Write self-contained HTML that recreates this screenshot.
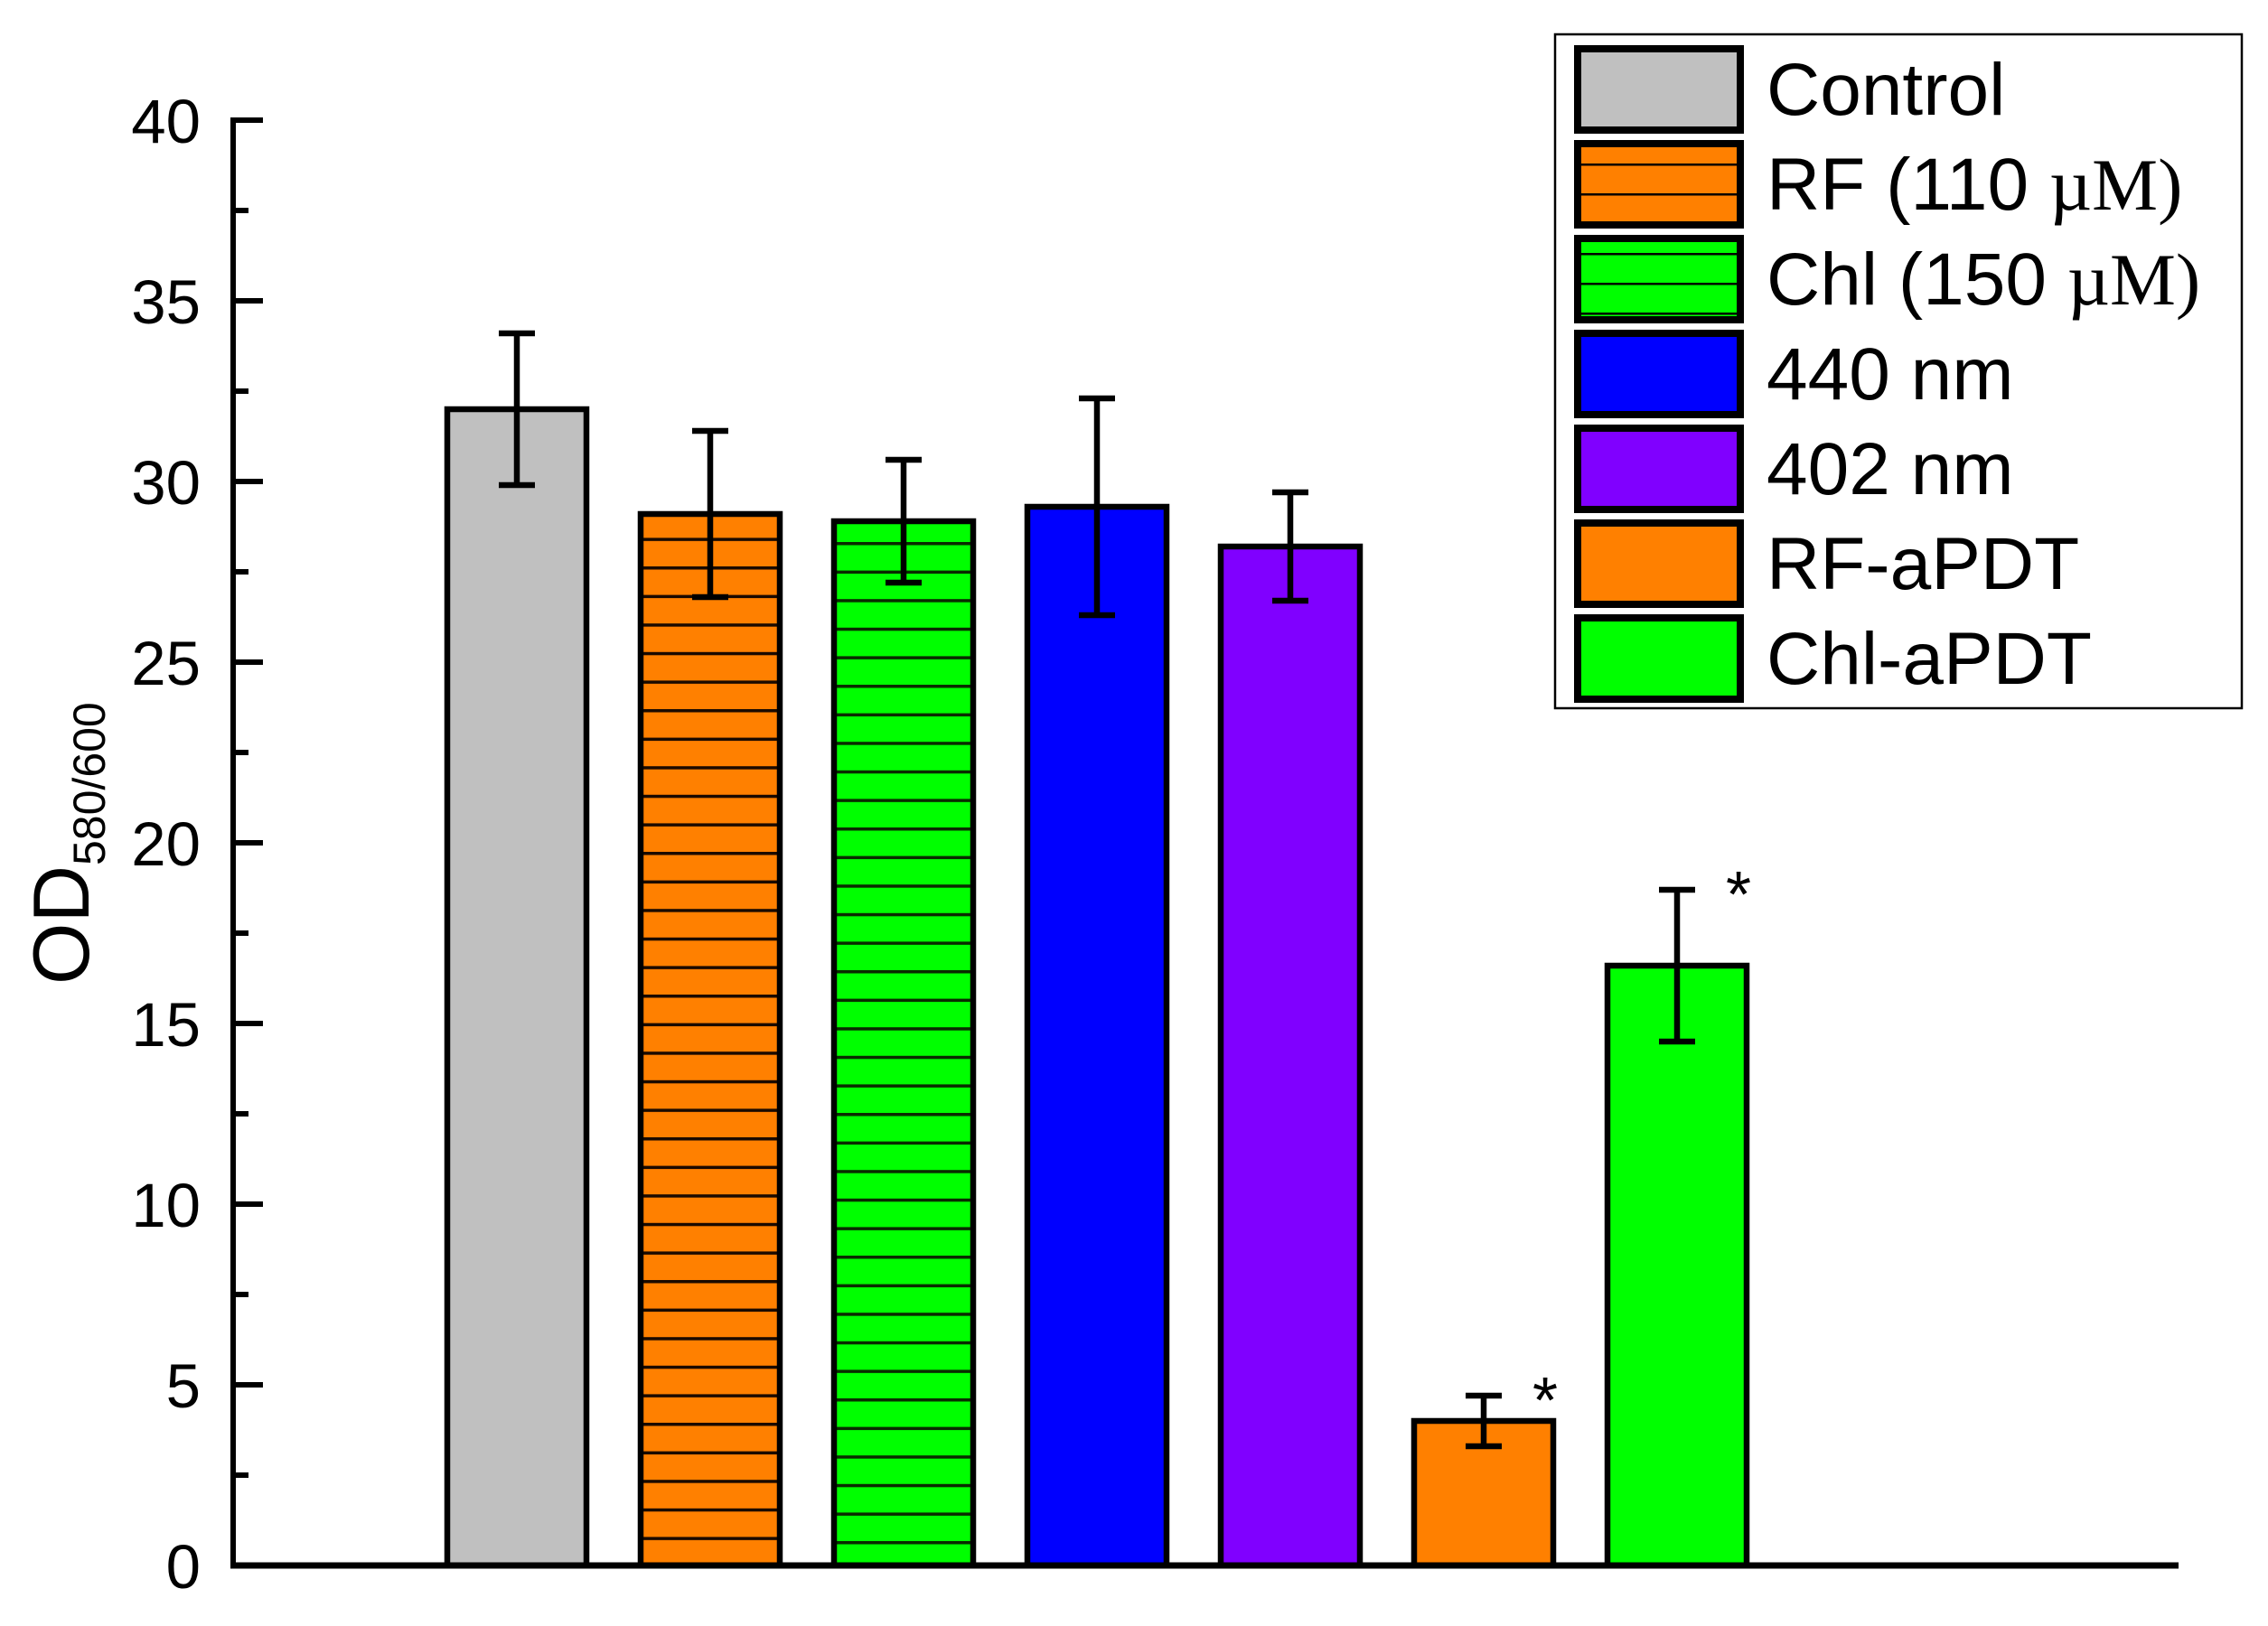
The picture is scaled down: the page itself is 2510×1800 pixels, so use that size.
<!DOCTYPE html>
<html><head><meta charset="utf-8"><style>
html,body{margin:0;padding:0;background:#fff;}
svg{display:block;font-family:"Liberation Sans",Arial,sans-serif;}
</style></head><body>
<svg id="chart" width="2510" height="1800" viewBox="0 0 2510 1800">
<defs>
<pattern id="hatchO" patternUnits="userSpaceOnUse" width="20" height="31.6" y="1733">
<rect width="20" height="31.6" fill="#ff8000"/><rect y="0" width="20" height="3.5" fill="#1a0a00"/></pattern>
<pattern id="hatchG" patternUnits="userSpaceOnUse" width="20" height="31.6" y="1706">
<rect width="20" height="31.6" fill="#00ff00"/><rect y="0" width="20" height="3.5" fill="#0a2a00"/></pattern>
<pattern id="lhO" patternUnits="userSpaceOnUse" width="20" height="33" y="16"><rect width="20" height="33" fill="#ff8000"/><rect width="20" height="2.5" fill="#000"/></pattern>
<pattern id="lhG" patternUnits="userSpaceOnUse" width="20" height="33" y="16"><rect width="20" height="33" fill="#00ff00"/><rect width="20" height="2.5" fill="#000"/></pattern>
</defs>
<g id="bars"></g>
<g id="axes"></g>
<g id="legend"></g>
</svg>
<script>
const categories = ["Control","RF (110 µM)","Chl (150 µM)","440 nm","402 nm","RF-aPDT","Chl-aPDT"];
const values = [32.0, 29.1, 28.9, 29.3, 28.2, 4.0, 16.6];
const errors = [2.1, 2.3, 1.7, 3.0, 1.5, 0.7, 2.1];
const significant = [false,false,false,false,false,true,true];
const yTicks = [0,5,10,15,20,25,30,35,40];
const fills = ["#c0c0c0","url(#hatchO)","url(#hatchG)","#0000ff","#8000ff","#ff8000","#00ff00"];
const legendFills = ["#c0c0c0","url(#lhO)","url(#lhG)","#0000ff","#8000ff","#ff8000","#00ff00"];

const NS="http://www.w3.org/2000/svg";
const X0=258, X1=2411, Y0=1733, PX=40;
const y = v => Y0 - v*PX;
const xc = i => 572 + i*214;
const BW=154;
function mk(tag, attrs, parent){const e=document.createElementNS(NS,tag);for(const k in attrs)e.setAttribute(k,attrs[k]);parent.appendChild(e);return e;}
const bars=document.getElementById('bars'), axes=document.getElementById('axes'), legend=document.getElementById('legend');

values.forEach((v,i)=>{
  const r=mk('rect',{x:xc(i)-BW/2,y:y(v),width:BW,height:Y0-y(v),fill:fills[i],stroke:'#000','stroke-width':6.5},bars);
  
  
  const e=errors[i];
  const g=mk('g',{stroke:'#000','stroke-width':6.5,fill:'none'},bars);
  
  
  mk('line',{x1:xc(i),x2:xc(i),y1:y(v+e),y2:y(v-e)},g);
  mk('line',{x1:xc(i)-20,x2:xc(i)+20,y1:y(v+e),y2:y(v+e)},g);
  mk('line',{x1:xc(i)-20,x2:xc(i)+20,y1:y(v-e),y2:y(v-e)},g);
  if(significant[i]){
    const s=mk('text',{x:xc(i)+68,y:y(v+e)+30,'font-size':72,'text-anchor':'middle'},bars);
    s.textContent='*';
    
    
  }
});

// axes
const ya=mk('line',{x1:X0,x2:X0,y1:y(40)-3,y2:Y0,stroke:'#000','stroke-width':6},axes);


const xa=mk('line',{x1:X0-3,x2:X1,y1:Y0,y2:Y0,stroke:'#000','stroke-width':7},axes);


yTicks.forEach((t,k)=>{
  mk('line',{x1:X0,x2:X0+33,y1:y(t),y2:y(t),stroke:'#000','stroke-width':6},axes);
  if(k<yTicks.length-1) mk('line',{x1:X0,x2:X0+17,y1:y(t+2.5),y2:y(t+2.5),stroke:'#000','stroke-width':6},axes);
  const l=mk('text',{x:222,y:y(t)+25,'font-size':69,'text-anchor':'end'},axes);
  l.textContent=t;
  
  
});
const yt=mk('text',{transform:'translate(98,1090) rotate(-90)','font-size':88},axes);


yt.innerHTML='OD<tspan font-size="50" dy="18">580/600</tspan>';

// legend
const lb=mk('rect',{x:1721,y:38,width:760,height:746,fill:'#fff',stroke:'#000','stroke-width':2.5},legend);


categories.forEach((c,i)=>{
  const ty=54+i*105;
  const g=mk('g',{},legend);
  
  
  mk('rect',{x:1746,y:ty,width:180,height:90,fill:legendFills[i],stroke:'#000','stroke-width':8},g);
  const t=mk('text',{x:1955,y:ty+73,'font-size':82},g);
  const m=c.match(/^(.*\()(\d+ )µM\)$/);
  if(m){t.innerHTML=m[1]+m[2]+'<tspan font-family="Liberation Serif, serif">µM)</tspan>';}
  else t.textContent=c;
});
</script>
</body></html>
